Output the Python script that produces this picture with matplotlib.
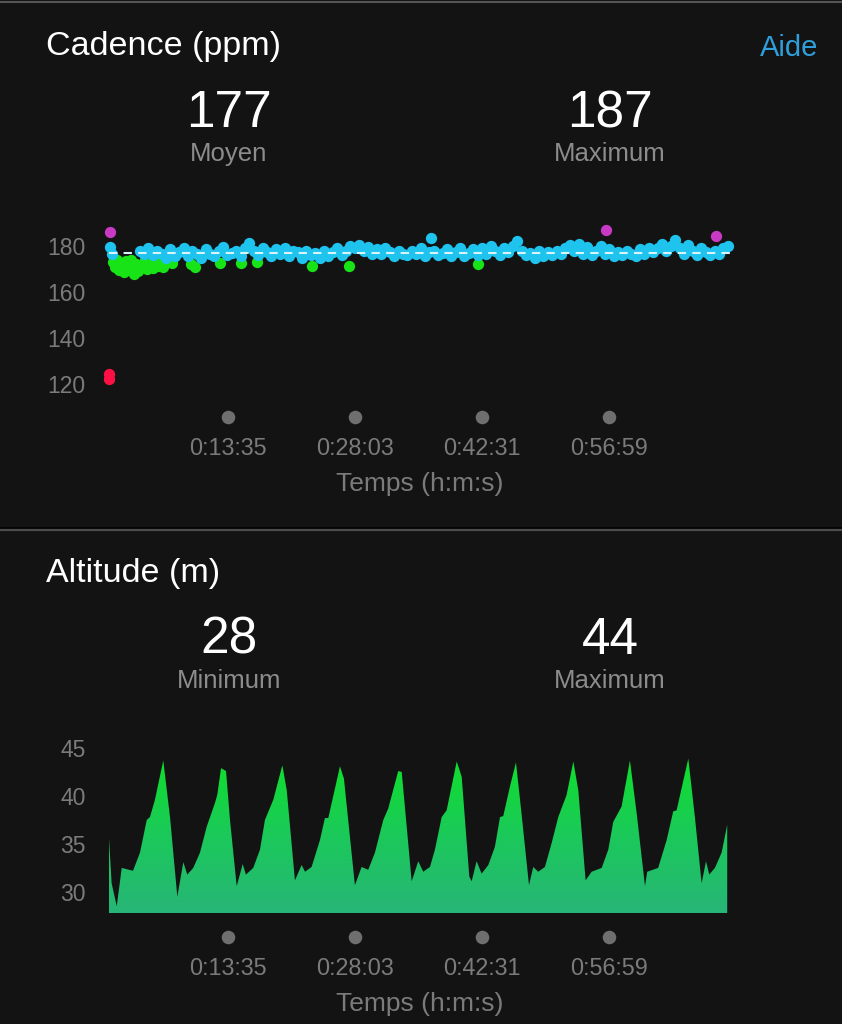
import numpy as np
import matplotlib.pyplot as plt
from matplotlib.colors import LinearSegmentedColormap

plt.rcParams['font.family'] = ['Liberation Sans', 'DejaVu Sans']

# ---- data ----
tick_secs = [815, 1683, 2551, 3419]
tick_labels = ["0:13:35", "0:28:03", "0:42:31", "0:56:59"]
t_end = 4245

cad_avg = 177
cad_max = 187

blue_t = [5, 20, 210, 240, 270, 300, 330, 360, 390, 420, 450, 480, 510, 540, 570, 600,
          630, 660, 690, 720, 750, 780, 810, 840, 870, 900, 930, 960, 990, 1020, 1050,
          1080, 1110, 1140, 1170, 1200, 1230, 1260, 1290, 1320, 1350, 1380, 1410, 1440,
          1470, 1500, 1530, 1560, 1590, 1620, 1650, 1680, 1710, 1740, 1770, 1800, 1830,
          1860, 1890, 1920, 1950, 1980, 2010, 2040, 2070, 2100, 2130, 2160, 2190, 2200,
          2220, 2250, 2280, 2310, 2340, 2370, 2400, 2430, 2460, 2490, 2520, 2550, 2580,
          2610, 2640, 2670, 2700, 2730, 2760, 2790, 2820, 2850, 2880, 2910, 2940, 2970,
          3000, 3030, 3060, 3090, 3120, 3150, 3180, 3210, 3240, 3270, 3300, 3330, 3360,
          3390, 3420, 3450, 3480, 3510, 3540, 3570, 3600, 3630, 3660, 3690, 3720, 3750,
          3780, 3810, 3840, 3870, 3900, 3930, 3960, 3990, 4020, 4050, 4080, 4110, 4140,
          4170, 4200, 4230]
blue_v = [179.5, 176.5, 178, 176.5, 179, 176, 178, 176.5, 175, 178.5, 175.5, 177.5, 179,
          175.5, 178, 176.5, 175, 178.5, 176.5, 175.5, 178, 179.5, 176, 177, 178, 175.5, 179,
          181.5, 178, 176, 179, 177.5, 175.5, 178.5, 176.5, 179, 175.5, 178, 177.5, 175,
          178, 176, 177, 175, 178, 175.5, 177.5, 179, 176, 178, 180, 179, 180.5, 178,
          179.5, 176.5, 178.5, 176.5, 179, 177.5, 175.5, 178, 176.5, 176, 178, 176.5, 179, 175.5,
          177.5, 183.5, 178, 176, 177, 178.5, 175.5, 177.5, 179, 175.5, 177, 178.5, 176,
          179, 176.5, 180, 178, 176, 179, 177.5, 180, 182, 178, 176, 177, 175, 178,
          175.5, 177.5, 176, 178, 176.5, 179, 180.5, 178, 181, 176.5, 179.5, 176, 178, 180,
          176.5, 178.5, 175.5, 177.5, 176, 178, 176.5, 175.5, 178.5, 176.5, 179, 177.5, 179, 181,
          178, 180, 182.5, 179, 176.5, 180.5, 178, 176, 179, 177.5, 176, 178, 176.5, 179,
          180]

green_t = [25, 40, 55, 70, 85, 100, 115, 130, 150, 170, 185, 200, 220, 240, 260, 280,
           300, 320, 345, 370, 400, 430, 560, 590, 760, 900, 1010, 1390, 1640, 2520]
green_v = [173, 171, 174, 169.5, 172.5, 168.5, 173.5, 170.5, 174, 168, 172, 169, 171.5,
           173, 170, 172, 170.5, 173.5, 171.5, 171, 173, 172.5, 172, 171, 172.5, 172.5,
           173, 171.5, 171.5, 172]

purple_t = [8, 3400, 4150]
purple_v = [186, 187, 184.5]

red_t = [2, 2]
red_v = [124.5, 122]

alt_min = 28
alt_max = 44
alt_t = [0, 18, 53, 87, 164, 212, 258, 280, 314, 371, 417, 467, 508, 535, 576, 622,
         668, 725, 740, 766, 800, 827, 873, 914, 936, 986, 1032, 1066, 1123, 1185, 1215,
         1271, 1317, 1340, 1385, 1442, 1476, 1499, 1579, 1606, 1681, 1727, 1772, 1818,
         1875, 1909, 1977, 2001, 2069, 2114, 2148, 2194, 2228, 2274, 2308, 2377, 2411,
         2463, 2479, 2513, 2547, 2593, 2638, 2673, 2695, 2741, 2782, 2821, 2871, 2900,
         2934, 2980, 3026, 3071, 3128, 3174, 3208, 3258, 3299, 3368, 3413, 3447, 3504,
         3561, 3607, 3664, 3679, 3754, 3812, 3857, 3880, 3960, 4005, 4051, 4081, 4103,
         4142, 4188, 4226]
alt_v = [35.6, 30.9, 28.5, 32.5, 32.2, 34.1, 37.5, 37.8, 39.6, 43.7, 37.8, 29.5, 33.1,
         31.8, 32.5, 34.1, 36.8, 39.3, 40.1, 42.9, 42.6, 37.5, 30.6, 32.9, 31.8, 32.5,
         34.4, 37.5, 39.6, 43.2, 40.6, 31.2, 32.8, 32.1, 32.6, 35.4, 37.7, 37.7, 43.1,
         41.8, 30.7, 32.6, 32.3, 34.1, 37.5, 38.7, 42.6, 42.5, 31.1, 33.2, 32.1, 32.6,
         34.4, 37.8, 38.5, 43.6, 42.0, 31.6, 31.1, 33.2, 31.9, 32.8, 34.7, 37.8, 37.9,
         41.0, 43.5, 38.0, 30.7, 32.6, 32.1, 32.6, 35.1, 37.8, 40.1, 43.6, 40.6, 31.2,
         32.1, 32.5, 34.4, 37.3, 38.9, 43.7, 38.2, 30.6, 32.1, 32.5, 35.4, 38.4, 38.5,
         43.9, 37.8, 30.9, 33.2, 31.8, 32.5, 34.1, 37.0]

# ---- style ----
bg = '#131313'
W, H = 842, 1024
grey_txt = '#8c8c8c'
tick_txt = '#7b7b7b'
dot_col = '#6f6f6f'


def fx(x):
    return x / W


def fy(y):
    return 1 - y / H


fig = plt.figure(figsize=(8.42, 10.24), dpi=100, facecolor=bg)

# separators
fig.add_artist(plt.Line2D([0, 1], [fy(2), fy(2)], color='#555555', lw=1.5))
fig.add_artist(plt.Line2D([0, 1], [fy(527.5), fy(527.5)], color='#000000', lw=1.2))
fig.add_artist(plt.Line2D([0, 1], [fy(530), fy(530)], color='#4c4c4c', lw=1.6))


def header(y0, title, v1, l1, v2, l2):
    fig.text(fx(46), fy(y0 + 12), title, color='white', fontsize=24.5, va='baseline', ha='left')
    fig.text(fx(229), fy(y0 + 84), str(v1), color='white', fontsize=37, va='baseline', ha='center')
    fig.text(fx(610), fy(y0 + 84), str(v2), color='white', fontsize=37, va='baseline', ha='center')
    fig.text(fx(229), fy(y0 + 118), l1, color=grey_txt, fontsize=18.5, va='baseline', ha='center')
    fig.text(fx(610), fy(y0 + 118), l2, color=grey_txt, fontsize=18.5, va='baseline', ha='center')


def time_axis(ax, y_top, y_bot):
    h = y_bot - y_top
    tr = ax.get_xaxis_transform()
    ax.scatter(tick_secs, [(y_bot - (y_bot + 24)) / h] * 4, s=95, color=dot_col,
               transform=tr, clip_on=False, linewidths=0)
    for s, lab in zip(tick_secs, tick_labels):
        ax.text(s, (y_bot - (y_bot + 62)) / h, lab, transform=tr, ha='center',
                va='baseline', color=tick_txt, fontsize=16.8, clip_on=False)
    ax.text(t_end * 0.5, (y_bot - (y_bot + 98)) / h, "Temps (h:m:s)", transform=tr,
            ha='center', va='baseline', color=tick_txt, fontsize=19, clip_on=False)


def style_axes(ax):
    ax.set_facecolor(bg)
    for sp in ax.spines.values():
        sp.set_visible(False)
    ax.set_xticks([])
    ax.tick_params(axis='y', length=0, pad=17, labelcolor=tick_txt, labelsize=16.5)


# ---- cadence ----
header(43, "Cadence (ppm)", cad_avg, "Moyen", cad_max, "Maximum")
fig.text(fx(818), fy(56.5), "Aide", color='#2f9fdc', fontsize=21, ha='right', va='baseline')

c_top, c_bot = 218.4, 393.2
ax1 = fig.add_axes([fx(109), fy(c_bot), 621 / W, (c_bot - c_top) / H])
style_axes(ax1)
ms = 66
ax1.scatter(blue_t, blue_v, s=ms, color='#1ec3ee', linewidths=0, clip_on=False, zorder=3)
ax1.scatter(green_t, green_v, s=ms, color='#17e316', linewidths=0, clip_on=False, zorder=2)
ax1.scatter(purple_t, purple_v, s=ms, color='#c93ac4', linewidths=0, clip_on=False, zorder=3)
ax1.scatter(red_t, red_v, s=ms, color='#ff1044', linewidths=0, clip_on=False, zorder=3)
ax1.plot([0, t_end], [cad_avg, cad_avg], color='#d8f3fa', lw=1.5, ls=(0, (4, 3)), zorder=4)
ax1.set_xlim(0, t_end)
ax1.set_ylim(116, 192)
ax1.set_yticks([120, 140, 160, 180])
time_axis(ax1, c_top, c_bot)

# ---- altitude ----
header(570, "Altitude (m)", alt_min, "Minimum", alt_max, "Maximum")

a_top, a_bot = 738.4, 913
base = 27.8
ax2 = fig.add_axes([fx(109), fy(a_bot), 621 / W, (a_bot - a_top) / H])
style_axes(ax2)
grad = np.linspace(0, 1, 256).reshape(-1, 1)
cmap = LinearSegmentedColormap.from_list('alt', ['#27b577', '#1bc95a', '#0fdf2c'])
im = ax2.imshow(grad, extent=[0, alt_t[-1], base, max(alt_v)], origin='lower',
                aspect='auto', cmap=cmap, zorder=2)
poly = ax2.fill_between(alt_t, alt_v, base, color='none', lw=0)
im.set_clip_path(poly.get_paths()[0], transform=ax2.transData)
ax2.set_xlim(0, t_end)
ax2.set_ylim(base, 46)
ax2.set_yticks([30, 35, 40, 45])
time_axis(ax2, a_top, a_bot)

fig.savefig("out.png", dpi=100, facecolor=bg)
